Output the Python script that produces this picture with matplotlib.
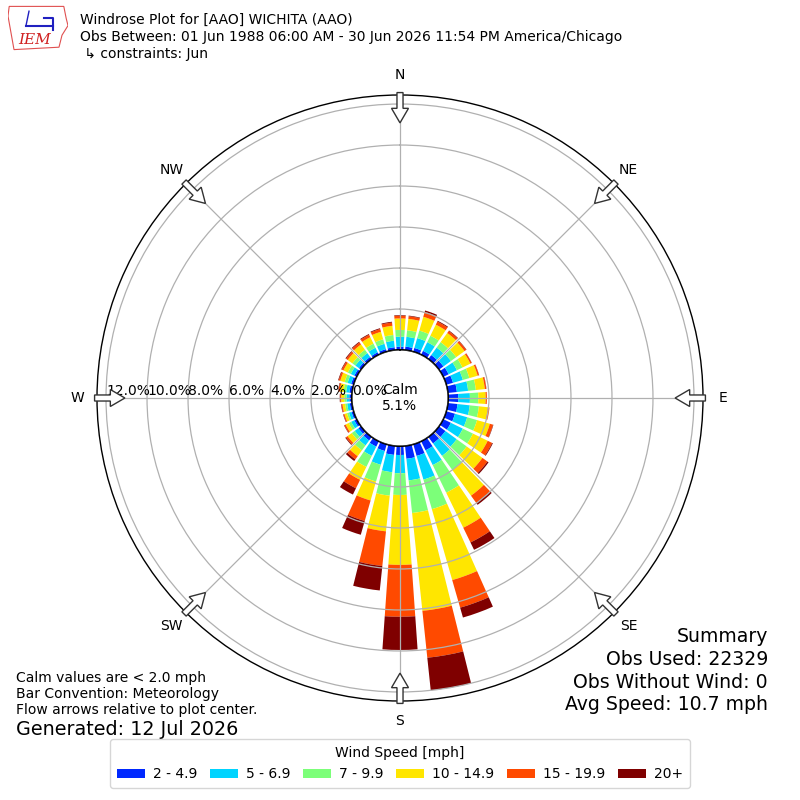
import numpy as np
import matplotlib
matplotlib.use("Agg")
import matplotlib.pyplot as plt
from matplotlib.patches import Circle, FancyArrow, Polygon

# direction bins (deg, meteorological, 10 deg wide)
directions = list(range(0, 360, 10))

speed_labels = ["2 - 4.9", "5 - 6.9", "7 - 9.9", "10 - 14.9", "15 - 19.9", "20+"]
speed_colors = ["#0028ff", "#00d4ff", "#7cff79", "#ffe600", "#ff4a00", "#7f0000"]

# frequency [%] per direction for each speed bin
spd_2_5 = [0.16, 0.18, 0.20, 0.22, 0.25, 0.28, 0.30, 0.35, 0.45,
           0.50, 0.48, 0.45, 0.42, 0.40, 0.40, 0.50, 0.60, 0.64,
           0.44, 0.45, 0.35, 0.30, 0.22, 0.17, 0.14, 0.12, 0.12,
           0.13, 0.14, 0.14, 0.14, 0.14, 0.14, 0.14, 0.14, 0.15]
spd_5_7 = [0.49, 0.48, 0.50, 0.47, 0.45, 0.45, 0.45, 0.50, 0.55,
           0.57, 0.60, 0.62, 0.65, 0.68, 0.75, 0.80, 1.20, 1.06,
           0.89, 0.85, 0.70, 0.50, 0.30, 0.22, 0.17, 0.13, 0.13,
           0.14, 0.16, 0.18, 0.19, 0.21, 0.23, 0.25, 0.27, 0.32]
spd_7_10 = [0.33, 0.32, 0.38, 0.35, 0.33, 0.32, 0.30, 0.33, 0.38,
            0.41, 0.45, 0.50, 0.55, 0.60, 0.85, 1.50, 1.50, 1.60,
            1.06, 1.15, 0.85, 0.60, 0.30, 0.18, 0.13, 0.10, 0.10,
            0.11, 0.13, 0.15, 0.16, 0.18, 0.20, 0.22, 0.23, 0.28]
spd_10_15 = [0.56, 0.56, 0.70, 0.60, 0.55, 0.50, 0.43, 0.42, 0.44,
             0.36, 0.44, 0.65, 0.80, 0.95, 1.55, 1.90, 3.60, 4.80,
             3.41, 1.75, 0.96, 0.70, 0.35, 0.25, 0.17, 0.13, 0.13,
             0.15, 0.18, 0.22, 0.24, 0.28, 0.32, 0.35, 0.38, 0.45]
spd_15_20 = [0.13, 0.13, 0.25, 0.17, 0.12, 0.10, 0.07, 0.07, 0.07,
             0.06, 0.08, 0.16, 0.24, 0.30, 0.45, 0.80, 1.40, 2.30,
             2.53, 1.70, 1.04, 0.46, 0.19, 0.10, 0.07, 0.05, 0.05,
             0.05, 0.07, 0.08, 0.09, 0.10, 0.12, 0.13, 0.14, 0.16]
spd_20 = [0.03, 0.03, 0.07, 0.04, 0.03, 0.02, 0.01, 0.01, 0.01,
          0.00, 0.00, 0.02, 0.04, 0.07, 0.10, 0.40, 0.50, 1.60,
          1.62, 1.20, 0.70, 0.34, 0.10, 0.04, 0.02, 0.02, 0.02,
          0.02, 0.02, 0.03, 0.03, 0.04, 0.04, 0.04, 0.04, 0.04]
speed_bins = [spd_2_5, spd_5_7, spd_7_10, spd_10_15, spd_15_20, spd_20]

calm_pct = 5.1
rmax = 12.44
rticks = [0, 2, 4, 6, 8, 10, 12]
compass = ["N", "NE", "E", "SE", "S", "SW", "W", "NW"]

fig = plt.figure(figsize=(8, 8), dpi=100)
ax = fig.add_axes([0.12125, 0.12375, 0.7575, 0.7575], projection="polar")
ax.set_theta_zero_location("N")
ax.set_theta_direction(-1)

theta = np.deg2rad(directions)
bottom = np.zeros(len(directions))
handles = []
for vals, color, label in zip(speed_bins, speed_colors, speed_labels):
    bars = ax.bar(theta, vals, width=np.deg2rad(8), bottom=bottom,
                  color=color, linewidth=0, label=label, zorder=1)
    handles.append(bars)
    bottom = bottom + np.array(vals)

ax.set_ylim(0, rmax)
ax.set_rorigin(-2.34)
ax.set_yticks(rticks[1:])
ax.set_yticklabels([])
ax.set_xticks(np.deg2rad(range(0, 360, 45)))
ax.set_xticklabels([])
ax.grid(True, color="#b0b0b0", lw=0.9)
ax.spines["polar"].set_linewidth(1.0)

for r in rticks:
    ax.text(np.deg2rad(270), r, f"{r:.1f}%", ha="left", va="bottom",
            fontsize=10, zorder=5)

# calm circle
ax.add_patch(Circle((0.5, 0.5), 0.0792, transform=ax.transAxes,
                    facecolor="white", edgecolor="black", lw=1.5, zorder=3))
ax.text(0.5, 0.5, f"Calm\n{calm_pct:.1f}%", transform=ax.transAxes,
        ha="center", va="center", fontsize=10, zorder=6)

# compass labels and flow arrows
for i, name in enumerate(compass):
    a = np.deg2rad(i * 45)
    sx, sy = np.sin(a), np.cos(a)
    ax.text(0.5 + 0.533 * sx, 0.5 + 0.533 * sy, name, transform=ax.transAxes,
            ha="center", va="center", fontsize=10)
    r0 = 0.504
    ax.add_patch(FancyArrow(0.5 + r0 * sx, 0.5 + r0 * sy,
                            -0.05 * sx, -0.05 * sy, width=0.010,
                            head_width=0.028, head_length=0.024,
                            length_includes_head=True, facecolor="white",
                            edgecolor="#333333", lw=1.0,
                            transform=ax.transAxes, clip_on=False, zorder=6))

# header
fig.text(0.1, 0.975, "Windrose Plot for [AAO] WICHITA (AAO)", fontsize=10,
         va="center")
fig.text(0.1, 0.954, "Obs Between: 01 Jun 1988 06:00 AM - 30 Jun 2026 "
         "11:54 PM America/Chicago", fontsize=10, va="center")
fig.text(0.1, 0.933, " \u21b3 constraints: Jun", fontsize=10, va="center")

# logo
lax = fig.add_axes([0.01, 0.935, 0.075, 0.06])
lax.set_xlim(0, 1)
lax.set_ylim(0, 1)
lax.axis("off")
lax.add_patch(Polygon([[0.02, 0.95], [0.93, 0.95], [0.97, 0.7], [1.0, 0.55],
                       [0.9, 0.35], [0.85, 0.1], [0.1, 0.05], [0.05, 0.4],
                       [0.0, 0.75]], closed=True, fill=False,
                      edgecolor="#e05050", lw=0.8))
lax.plot([0.3, 0.75], [0.55, 0.55], color="#2020c0", lw=1.5)
lax.plot([0.3, 0.35], [0.55, 0.85], color="#2020c0", lw=1.0)
lax.plot([0.6, 0.75, 0.75], [0.7, 0.7, 0.45], color="#2020c0", lw=1.5)
lax.text(0.45, 0.25, "IEM", color="#d02020", fontsize=11, style="italic",
         family="DejaVu Serif", ha="center", va="center")

# notes
fig.text(0.02, 0.153, "Calm values are < 2.0 mph", fontsize=10, va="center")
fig.text(0.02, 0.133, "Bar Convention: Meteorology", fontsize=10, va="center")
fig.text(0.02, 0.112, "Flow arrows relative to plot center.", fontsize=10,
         va="center")
fig.text(0.02, 0.088, "Generated: 12 Jul 2026", fontsize=13.8, va="center")

summary = ["Summary", "Obs Used: 22329", "Obs Without Wind: 0",
           "Avg Speed: 10.7 mph"]
for j, line in enumerate(summary):
    fig.text(0.96, 0.2045 - j * 0.0285, line, fontsize=13.6, ha="right",
             va="center")

fig.legend(handles, speed_labels, loc="lower center",
           bbox_to_anchor=(0.5, 0.006), ncol=6, title="Wind Speed [mph]",
           fontsize=10, title_fontsize=10, columnspacing=0.9,
           handletextpad=0.6, borderpad=0.5)

fig.savefig("out.png", dpi=100)
